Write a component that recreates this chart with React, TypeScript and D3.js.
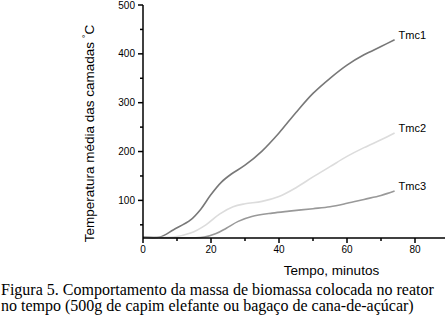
import React from "react";
import * as d3 from "d3";

const timeTmc1 = [0, 5, 9, 14, 17, 20, 23, 26, 30, 35, 40, 45, 50, 55, 60, 65, 70, 74];
const valTmc1 = [25, 25, 40, 60, 82, 112, 137, 154, 172, 201, 238, 280, 319, 350, 377, 398, 415, 429];

const timeTmc2 = [0, 9, 14, 18.5, 22.5, 26.5, 30, 35, 40, 45, 50, 55, 60, 65, 70, 74];
const valTmc2 = [25, 25, 33, 50, 72, 87, 93, 98, 108, 126, 148, 169, 190, 208, 224, 238];

const timeTmc3 = [0, 18, 21.5, 24.5, 28, 32, 38, 43, 50, 55, 60, 65, 70, 74];
const valTmc3 = [25, 25, 32, 43, 57, 67, 74, 78, 83, 87, 94, 102, 110, 119];

const seriesNames = ["Tmc1", "Tmc2", "Tmc3"];
const seriesColors = ["#787878", "#dcdcdc", "#999999"];

const yMajorTicks = [100, 200, 300, 400, 500];
const yMinorTicks = [50, 150, 250, 350, 450];
const xMajorTicks = [0, 20, 40, 60, 80];
const xMinorTicks = [10, 30, 50, 70, 90];

const xTitle = "Tempo, minutos";
const yTitle = "Temperatura média das camadas ";
const captionLines = [
  "Figura 5. Comportamento da massa de biomassa colocada no reator",
  "no tempo (500g de capim elefante ou bagaço de cana-de-açúcar)",
];

export default function App() {
  const W = 445;
  const H = 316;
  const x0 = 143;
  const yBottom = 238;
  const x = d3.scaleLinear().domain([0, 90]).range([x0, x0 + 306]);
  const y = d3.scaleLinear().domain([23, 500]).range([yBottom, 5]);

  const series = [
    { name: seriesNames[0], t: timeTmc1, v: valTmc1, color: seriesColors[0] },
    { name: seriesNames[1], t: timeTmc2, v: valTmc2, color: seriesColors[1] },
    { name: seriesNames[2], t: timeTmc3, v: valTmc3, color: seriesColors[2] },
  ];

  const line = d3
    .line<[number, number]>()
    .x((d) => x(d[0]))
    .y((d) => y(d[1]))
    .curve(d3.curveCatmullRom.alpha(0.5));

  const sans = "Liberation Sans, Arial, sans-serif";
  const serif = "Liberation Serif, Times New Roman, serif";

  return (
    <svg
      width={W}
      height={H}
      style={{ position: "absolute", left: 0, top: 0, background: "#fff" }}
    >
      <rect x={0} y={0} width={W} height={H} fill="#fff" />
      {series.map((s) => {
        const pts = s.t.map((t, i) => [t, s.v[i]] as [number, number]);
        const last = pts[pts.length - 1];
        return (
          <g key={s.name}>
            <path d={line(pts) || ""} fill="none" stroke={s.color} strokeWidth={1.6} />
            <text
              x={x(last[0]) + 4}
              y={y(last[1]) - 1}
              fontFamily={sans}
              fontSize={11}
              fill="#000"
            >
              {s.name}
            </text>
          </g>
        );
      })}
      <line x1={x0} x2={x0} y1={y(500)} y2={yBottom} stroke="#000" strokeWidth={1.5} />
      {yMajorTicks.map((v) => (
        <g key={"ym" + v}>
          <line x1={x0 - 5} x2={x0} y1={y(v)} y2={y(v)} stroke="#000" strokeWidth={1.5} />
          <text
            x={x0 - 8}
            y={y(v) + 3.5}
            textAnchor="end"
            fontFamily={sans}
            fontSize={10}
          >
            {v}
          </text>
        </g>
      ))}
      {yMinorTicks.map((v) => (
        <line key={"yn" + v} x1={x0 - 3} x2={x0} y1={y(v)} y2={y(v)} stroke="#000" strokeWidth={1.5} />
      ))}
      <line x1={x0} x2={W} y1={yBottom} y2={yBottom} stroke="#000" strokeWidth={1.5} />
      {xMajorTicks.map((v) => (
        <g key={"xm" + v}>
          <line x1={x(v)} x2={x(v)} y1={yBottom} y2={yBottom + 5} stroke="#000" strokeWidth={1.5} />
          <text x={x(v)} y={yBottom + 14.5} textAnchor="middle" fontFamily={sans} fontSize={10}>
            {v}
          </text>
        </g>
      ))}
      {xMinorTicks.map((v) => (
        <line key={"xn" + v} x1={x(v)} x2={x(v)} y1={yBottom} y2={yBottom + 3} stroke="#000" strokeWidth={1.5} />
      ))}
      <text x={331.5} y={274.5} textAnchor="middle" fontFamily={sans} fontSize={13.5}>
        {xTitle}
      </text>
      <text
        transform="translate(94,133.5) rotate(-90)"
        textAnchor="middle"
        fontFamily={sans}
        fontSize={13.5}
      >
        {yTitle}
        <tspan dy={-5} fontSize={9}>°</tspan>
        <tspan dy={5}>C</tspan>
      </text>
      {captionLines.map((l, i) => (
        <text key={i} x={1} y={294.5 + i * 16} fontFamily={serif} fontSize={16}>
          {l}
        </text>
      ))}
    </svg>
  );
}
